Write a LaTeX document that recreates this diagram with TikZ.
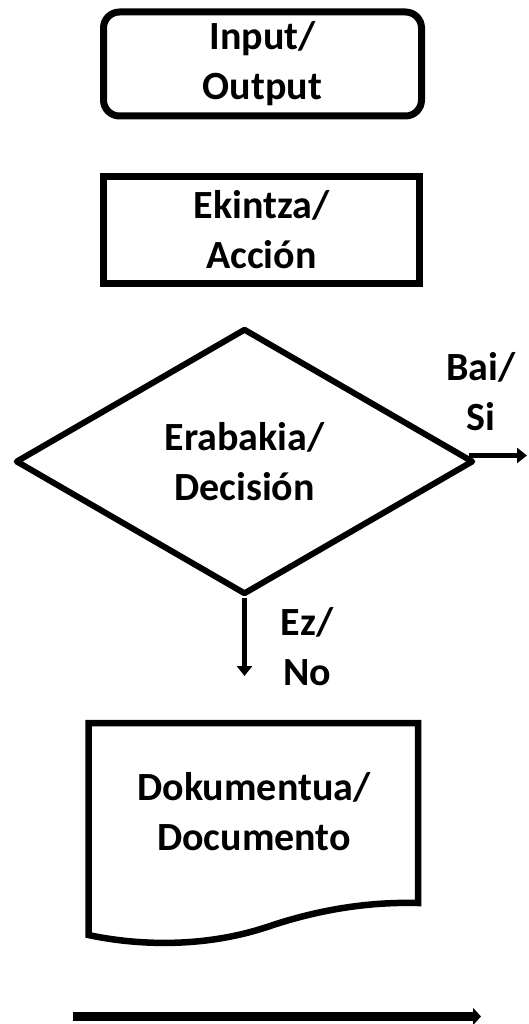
\documentclass[tikz,border=0pt]{standalone}
\usepackage{fontspec}
\setmainfont{Carlito}
\usetikzlibrary{shapes.geometric,arrows.meta}
\begin{document}
\begin{tikzpicture}[x=1pt,y=-1pt,
  lbl/.style={font=\fontsize{40}{50}\selectfont\bfseries, align=center, inner sep=0pt},
  shapebox/.style={draw=black, line width=7pt, inner sep=0pt, lbl},
  conn/.style={line width=5pt, -{Triangle[length=10pt,width=15pt]}},
]
\useasboundingbox (0,0) rectangle (529,1024);
\node[shapebox, rounded corners=16pt, minimum width=318pt, minimum height=104pt] (io) at (262.5,64) {Input/\\Output};
\node[shapebox, minimum width=316pt, minimum height=107pt] (act) at (261.5,230) {Ekintza/\\Acción};
\node[shapebox, diamond, aspect=1.72, line width=6pt, line join=round, minimum width=458pt, minimum height=266pt] (dec) at (244.5,461.5) {Erabakia/\\Decisión};
\coordinate (yes) at (527,455.5);
\coordinate (no) at (245,676);
\draw[conn] ([shift={(-8,-6)}]dec.east) -- (yes);
\draw[conn] (dec.south) -- (dec.south |- no);
\node[lbl] (yeslbl) at (481,392) {Bai/\\Si};
\node[lbl] (nolbl) at (307,647) {Ez/\\No};
\draw[line width=6.5pt] (88.5,935) -- (88.5,723) -- (418,723) -- (418,903)
  .. controls (380,902) and (330,906) .. (270,926)
  .. controls (200,950) and (130,944) .. cycle;
\node[lbl] (doc) at (254,812) {Dokumentua/\\Documento};
\coordinate (l1) at (73,1016.5);
\coordinate (l2) at (481,1016.5);
\draw[line width=9pt, -{Triangle[length=8pt,width=17pt]}] (l1) -- (l2);
\end{tikzpicture}
\end{document}
